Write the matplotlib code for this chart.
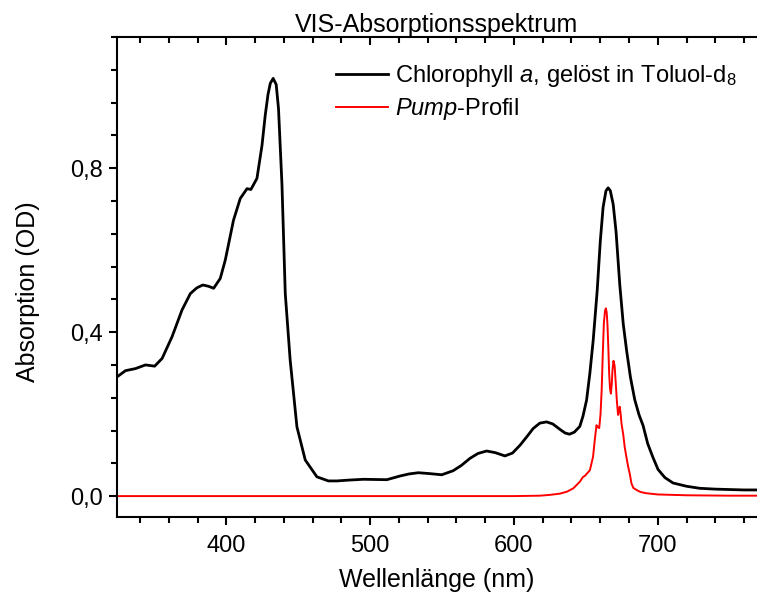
import matplotlib
matplotlib.use("Agg")
import matplotlib.pyplot as plt
from matplotlib.ticker import MultipleLocator

plt.rcParams['font.family'] = ['Liberation Sans', 'DejaVu Sans']
plt.rcParams['mathtext.fontset'] = 'custom'
plt.rcParams['mathtext.rm'] = 'Liberation Sans'
plt.rcParams['mathtext.it'] = 'Liberation Sans:italic'

# Chlorophyll a absorption (wavelength nm, OD)
chl_wl = [324.1, 329.9, 336.8, 343.8, 350.2, 355.4, 362.3, 369.2, 375.0, 379.5,
          383.6, 387.5, 391.2, 395.8, 399.3, 405.0, 409.7, 414.4, 417.1, 421.3,
          424.8, 427.1, 429.0, 430.6, 432.6, 434.7, 436.3, 438.7, 441.0, 444.4,
          449.1, 454.9, 463.0, 471.0, 476.9, 485.0, 495.3, 511.6, 520.8, 527.0,
          533.5, 541.0, 549.8, 557.8, 563.5, 569.4, 575.0, 581.0, 587.0, 593.7,
          599.0, 604.2, 609.0, 613.4, 618.0, 622.7, 627.0, 631.9, 635.5, 638.6,
          642.0, 645.8, 648.0, 650.5, 652.8, 655.1, 657.9, 660.0, 662.0, 664.0,
          665.5, 667.0, 669.0, 671.0, 673.6, 676.0, 678.3, 681.0, 684.0, 687.0,
          689.8, 693.0, 696.7, 700.2, 705.0, 710.6, 720.0, 729.2, 740.0, 750.0,
          760.0, 770.0]
chl_od = [0.291, 0.306, 0.311, 0.320, 0.317, 0.336, 0.389, 0.454, 0.494, 0.508,
          0.515, 0.512, 0.507, 0.531, 0.576, 0.673, 0.726, 0.750, 0.748, 0.775,
          0.855, 0.930, 0.980, 1.007, 1.019, 1.004, 0.945, 0.760, 0.494, 0.332,
          0.169, 0.088, 0.047, 0.037, 0.037, 0.039, 0.041, 0.040, 0.049, 0.054,
          0.057, 0.055, 0.052, 0.062, 0.075, 0.092, 0.104, 0.110, 0.106, 0.098,
          0.105, 0.124, 0.145, 0.165, 0.178, 0.181, 0.176, 0.163, 0.154, 0.151,
          0.156, 0.170, 0.195, 0.234, 0.300, 0.380, 0.502, 0.620, 0.705, 0.745,
          0.752, 0.745, 0.712, 0.645, 0.515, 0.420, 0.356, 0.290, 0.235, 0.198,
          0.172, 0.128, 0.094, 0.065, 0.045, 0.032, 0.024, 0.019, 0.017, 0.016,
          0.015, 0.015]

# Pump profile (wavelength nm, OD-scaled)
pump_wl = [324.0, 400.0, 500.0, 600.0, 618.0, 625.0, 632.0, 637.0, 641.3, 645.8,
           648.1, 649.3, 651.0, 652.8, 655.0, 656.3, 657.4, 658.3, 659.3, 660.2,
           661.0, 661.8, 662.5, 663.3, 663.9, 664.5, 665.0, 665.6, 666.2, 666.8,
           667.4, 668.0, 668.5, 669.2, 670.0, 670.8, 671.6, 672.4, 673.0, 673.6,
           674.2, 674.8, 676.0, 677.0, 678.2, 679.4, 680.5, 681.7, 683.0, 685.2,
           688.0, 692.0, 700.0, 720.0, 750.0, 770.0]
pump_od = [0.000, 0.000, 0.000, 0.000, 0.001, 0.003, 0.006, 0.011, 0.019, 0.035,
           0.047, 0.049, 0.056, 0.063, 0.096, 0.140, 0.173, 0.168, 0.166, 0.200,
           0.259, 0.350, 0.420, 0.452, 0.458, 0.448, 0.420, 0.365, 0.300, 0.262,
           0.250, 0.272, 0.307, 0.330, 0.318, 0.275, 0.230, 0.198, 0.210, 0.218,
           0.200, 0.177, 0.150, 0.120, 0.095, 0.072, 0.055, 0.031, 0.020, 0.015,
           0.010, 0.007, 0.004, 0.002, 0.001, 0.001]

x_major = [400, 500, 600, 700]
y_major = [0.0, 0.4, 0.8]
y_ticklabels = ['0,0', '0,4', '0,8']

fig = plt.figure(figsize=(7.57, 6.01), dpi=100)
ax = fig.add_axes([117/757, 84/601, 1 - 117/757, 480/601])

ax.plot(chl_wl, chl_od, color='black', lw=2.0, solid_joinstyle='round',
        label='Chlorophyll $\\mathit{a}$, gelöst in Toluol-d$_{8}$')
ax.plot(pump_wl, pump_od, color='#ff0000', lw=1.4, solid_joinstyle='round',
        label='$\\mathit{Pump}$-Profil')

ax.set_xlim(324, 769)
ax.set_ylim(-0.051, 1.12)

ax.set_xticks(x_major)
ax.xaxis.set_minor_locator(MultipleLocator(20))
ax.set_yticks(y_major)
ax.set_yticklabels(y_ticklabels)
ax.yaxis.set_minor_locator(MultipleLocator(0.08))

for s in ['left', 'bottom', 'top']:
    ax.spines[s].set_linewidth(1.5)
ax.spines['right'].set_visible(False)

ax.tick_params(axis='both', which='both', direction='out', width=1.5,
               labelsize=17, top=True, right=False)
ax.tick_params(which='major', length=6)
ax.tick_params(which='minor', length=4)
ax.tick_params(axis='x', which='both', pad=7)
ax.tick_params(axis='y', which='both', pad=4)
for t in ax.xaxis.get_major_ticks() + ax.xaxis.get_minor_ticks():
    t.tick2line.set_marker(3)  # top ticks point inward

ax.set_title('VIS-Absorptionsspektrum', fontsize=18, pad=3)
ax.set_xlabel('Wellenlänge (nm)', fontsize=18, labelpad=8)
ax.set_ylabel('Absorption (OD)', fontsize=18)
ax.yaxis.set_label_coords(-0.120, 0.47)

leg = ax.legend(loc='upper left', bbox_to_anchor=(0.309, 0.99), frameon=False,
                fontsize=17, handlelength=2.2, handletextpad=0.3,
                labelspacing=0.3)

fig.savefig('out.png', dpi=100)
